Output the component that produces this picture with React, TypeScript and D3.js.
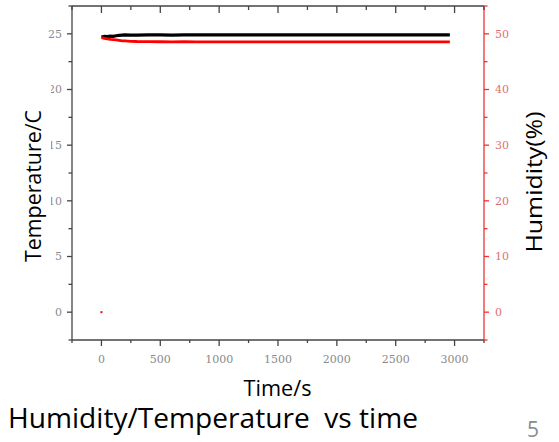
import React from "react";
import * as d3 from "d3";

// ---- data ----
const timeS = [0, 25, 50, 75, 100, 125, 150, 175, 200, 250, 300, 400, 500, 600, 700, 800, 900, 1000, 1100, 1200, 1300, 1400, 1500, 1600, 1700, 1800, 1900, 2000, 2100, 2200, 2300, 2400, 2500, 2600, 2700, 2800, 2900, 2960];
const temperature = [24.72, 24.78, 24.75, 24.79, 24.78, 24.83, 24.86, 24.88, 24.9, 24.88, 24.89, 24.9, 24.91, 24.89, 24.9, 24.9, 24.9, 24.91, 24.9, 24.9, 24.91, 24.9, 24.9, 24.9, 24.91, 24.9, 24.9, 24.9, 24.9, 24.91, 24.9, 24.9, 24.9, 24.9, 24.91, 24.9, 24.9, 24.9];
const humidity = [49.3, 49.2, 49.1, 49.0, 48.95, 48.9, 48.82, 48.75, 48.72, 48.66, 48.62, 48.6, 48.58, 48.57, 48.58, 48.56, 48.57, 48.56, 48.55, 48.56, 48.55, 48.55, 48.56, 48.55, 48.54, 48.55, 48.55, 48.54, 48.55, 48.54, 48.55, 48.54, 48.55, 48.54, 48.55, 48.54, 48.55, 48.55];
const outlierTime = [0];
const outlierHumidity = [0];

const xTicks = [0, 500, 1000, 1500, 2000, 2500, 3000];
const tempTicks = [0, 5, 10, 15, 20, 25];
const humTicks = [0, 10, 20, 30, 40, 50];

const W = 559, H = 442;
const L = 72, R = 484, T = 6, B = 340;
const serif = "'DejaVu Serif', serif";
const sans = "'Open Sans', sans-serif";
const axisCol = "#444";
const redAxis = "#e33";

export default function App() {
  const x = d3.scaleLinear().domain([-250, 3250]).range([L, R]);
  const yT = d3.scaleLinear().domain([-2.5, 27.5]).range([B, T]);
  const yH = d3.scaleLinear().domain([-5, 55]).range([B, T]);

  const xMinor = d3.range(-250, 3251, 250).filter((v) => !xTicks.includes(v));
  const tMinor = d3.range(-2.5, 27.6, 5);
  const hMinor = d3.range(-5, 55.1, 10);

  const tempLine = d3.line<number>().x((_, i) => x(timeS[i])).y((d) => yT(d));
  const humLine = d3.line<number>().x((_, i) => x(timeS[i])).y((d) => yH(d));

  return (
    <svg width={W} height={H} style={{ position: "absolute", left: 0, top: 0, background: "#fff" }}>
      <rect x={0} y={0} width={W} height={H} fill="#fff" />
      {/* data */}
      <path d={tempLine(temperature) || ""} fill="none" stroke="#000" strokeWidth={3.2} />
      <path d={humLine(humidity) || ""} fill="none" stroke="#f00" strokeWidth={2.8} />
      {outlierTime.map((t, i) => (
        <rect key={i} x={x(t) - 1} y={yH(outlierHumidity[i]) - 1} width={2} height={2} fill="#f00" />
      ))}

      {/* frame */}
      <line x1={L} x2={R} y1={T} y2={T} stroke={axisCol} strokeWidth={1.3} />
      <line x1={L} x2={R} y1={B} y2={B} stroke={axisCol} strokeWidth={1.3} />
      <line x1={L} x2={L} y1={T} y2={B} stroke={axisCol} strokeWidth={1.3} />
      <line x1={R} x2={R} y1={T} y2={B} stroke={redAxis} strokeWidth={1.3} />

      {/* bottom axis ticks & labels */}
      {xTicks.map((v) => (
        <g key={"xb" + v}>
          <line x1={x(v)} x2={x(v)} y1={B} y2={B + 6} stroke={axisCol} strokeWidth={1.3} />
          <line x1={x(v)} x2={x(v)} y1={T} y2={T + 7} stroke={axisCol} strokeWidth={1.3} />
          <text x={x(v)} y={362.5} textAnchor="middle" fontFamily={serif} fontSize={11} fill="#8a8a8a">{v}</text>
        </g>
      ))}
      {xMinor.map((v) => (
        <g key={"xm" + v}>
          <line x1={x(v)} x2={x(v)} y1={B} y2={B + 3} stroke={axisCol} strokeWidth={1.3} />
          <line x1={x(v)} x2={x(v)} y1={T} y2={T + 4} stroke={axisCol} strokeWidth={1.3} />
        </g>
      ))}

      {/* left axis */}
      {tempTicks.map((v) => (
        <g key={"yt" + v}>
          <line x1={L - 5} x2={L} y1={yT(v)} y2={yT(v)} stroke={axisCol} strokeWidth={1.3} />
          <text x={62} y={yT(v)} dy="0.35em" textAnchor="end" fontFamily={serif} fontSize={11} fill="#8a8a8a">{v}</text>
        </g>
      ))}
      {tMinor.map((v) => (
        <line key={"tm" + v} x1={L - 3.5} x2={L} y1={yT(v)} y2={yT(v)} stroke={axisCol} strokeWidth={1.3} />
      ))}

      {/* right axis */}
      {humTicks.map((v) => (
        <g key={"yh" + v}>
          <line x1={R} x2={R + 5} y1={yH(v)} y2={yH(v)} stroke={redAxis} strokeWidth={1.3} />
          <text x={495} y={yH(v)} dy="0.35em" textAnchor="start" fontFamily={serif} fontSize={11} fill="#e07070">{v}</text>
        </g>
      ))}
      {hMinor.map((v) => (
        <line key={"hm" + v} x1={R} x2={R + 3.5} y1={yH(v)} y2={yH(v)} stroke={redAxis} strokeWidth={1.3} />
      ))}

      {/* label box covering part of the left tick labels */}
      <rect x={0} y={80} width={51} height={192} fill="#fff" />

      {/* titles */}
      <text transform="translate(41,186) rotate(-90)" textAnchor="middle" fontFamily={sans} fontSize={21.5} textLength={152} lengthAdjust="spacingAndGlyphs" fill="#000">Temperature/C</text>
      <text transform="translate(541.7,182) rotate(-90)" textAnchor="middle" fontFamily={sans} fontSize={22} textLength={141} lengthAdjust="spacingAndGlyphs" fill="#000">Humidity(%)</text>
      <text x={277.5} y={395.5} textAnchor="middle" fontFamily={sans} fontSize={22} textLength={68} lengthAdjust="spacingAndGlyphs" fill="#000">Time/s</text>
      <text x={8} y={428} textAnchor="start" fontFamily={sans} fontSize={27} textLength={410} lengthAdjust="spacingAndGlyphs" fill="#000" style={{ whiteSpace: "pre" }}>{"Humidity/Temperature  vs time"}</text>
      <text x={527} y={437} textAnchor="start" fontFamily={sans} fontSize={21} fill="#8c8c8c">5</text>
    </svg>
  );
}
